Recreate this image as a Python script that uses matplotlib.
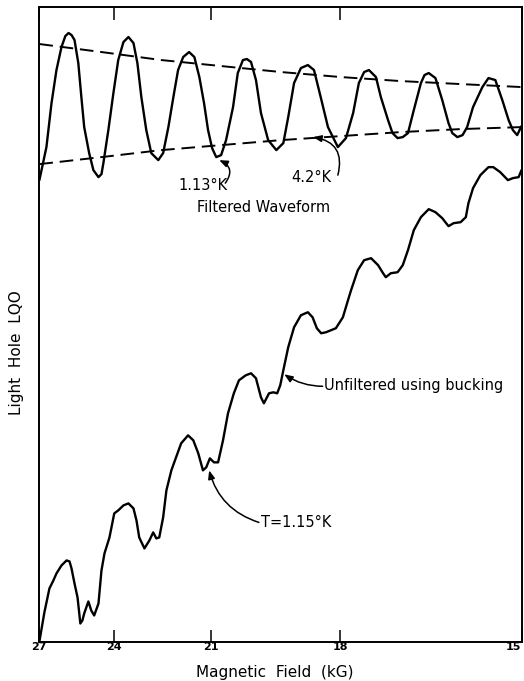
import numpy as np
import matplotlib
matplotlib.use("Agg")
import matplotlib.pyplot as plt

# ---------------- data (magnetic field in kG, signal in arbitrary units) -------------
field_ticks = [27, 24, 21, 18, 15]
tick_labels = ["27", "24", "21", "18", "15"]

# Filtered waveform (1.13 K)
filt_B = [26.96, 26.65, 26.43, 26.22, 26.01, 25.85, 25.72, 25.60, 25.48, 25.33,
          25.21, 25.10, 24.91, 24.75, 24.56, 24.45, 24.38, 24.20, 24.02, 23.85,
          23.67, 23.50, 23.33, 23.20, 23.07, 22.91, 22.75, 22.53, 22.38, 22.22,
          22.07, 21.93, 21.78, 21.61, 21.46, 21.32, 21.19, 21.08, 20.97, 20.86,
          20.73, 20.60, 20.42, 20.30, 20.17, 20.07, 19.97, 19.85, 19.73, 19.56,
          19.37, 19.21, 19.10, 18.97, 18.82, 18.67, 18.54, 18.40, 18.25, 18.05,
          17.89, 17.75, 17.64, 17.54, 17.45, 17.32, 17.23, 17.10, 17.02, 16.93,
          16.84, 16.75, 16.65, 16.53, 16.47, 16.40, 16.29, 16.18, 16.08, 16.02,
          15.94, 15.86, 15.79, 15.70, 15.56, 15.47, 15.37, 15.27, 15.18, 15.12,
          15.06, 15.00]
filt_S = [461, 494, 538, 571, 594, 605, 608, 606, 601, 578,
          544, 514, 488, 471, 464, 467, 478, 511, 548, 581,
          599, 604, 598, 578, 544, 511, 488, 481, 488, 514,
          544, 571, 584, 589, 584, 564, 538, 511, 493, 484,
          486, 501, 534, 568, 581, 582, 579, 561, 528, 501,
          491, 498, 524, 558, 573, 576, 571, 544, 514, 494,
          503, 528, 558, 569, 571, 564, 544, 521, 508, 503,
          504, 508, 531, 558, 566, 568, 563, 541, 518, 508,
          504, 506, 514, 534, 554, 563, 561, 541, 521, 511,
          506, 515]

# Envelope curves (dashed): 4.2 K
env_B = [26.96, 24.45, 22.44, 20.73, 19.26, 17.99, 16.88, 15.89, 15.00]
env_upper = [597, 589, 581, 575, 569, 564, 560, 557, 554]
env_lower = [477, 484, 491, 496, 501, 505, 509, 512, 514]

# Unfiltered trace using bucking, T = 1.15 K
unf_B = [26.96, 26.74, 26.52, 26.35, 26.22, 26.01, 25.80, 25.68, 25.60, 25.48,
         25.36, 25.25, 25.17, 25.10, 24.94, 24.83, 24.72, 24.56, 24.45, 24.34,
         24.16, 23.99, 23.85, 23.67, 23.50, 23.33, 23.23, 23.14, 22.97, 22.81,
         22.69, 22.59, 22.50, 22.38, 22.28, 22.13, 21.99, 21.84, 21.64, 21.49,
         21.35, 21.22, 21.13, 21.03, 20.92, 20.81, 20.68, 20.55, 20.40, 20.27,
         20.10, 19.97, 19.85, 19.73, 19.66, 19.54, 19.44, 19.35, 19.28, 19.21,
         19.10, 18.97, 18.82, 18.67, 18.57, 18.48, 18.39, 18.29, 18.19, 18.09,
         17.95, 17.85, 17.79, 17.66, 17.54, 17.41, 17.28, 17.19, 17.14, 17.05,
         16.93, 16.84, 16.75, 16.65, 16.53, 16.40, 16.29, 16.18, 16.08, 16.00,
         15.89, 15.81, 15.77, 15.70, 15.59, 15.47, 15.40, 15.30, 15.19, 15.12,
         15.04, 15.00]
unf_S = [0, 29, 53, 61, 68, 76, 81, 80, 73, 58,
         44, 18, 21, 28, 40, 31, 26, 38, 71, 88,
         104, 128, 131, 136, 138, 133, 121, 104, 93, 101,
         109, 103, 104, 124, 151, 171, 184, 198, 206, 201,
         188, 171, 174, 183, 179, 179, 201, 228, 248, 261,
         266, 268, 263, 244, 238, 248, 249, 248, 256, 271,
         294, 314, 326, 329, 324, 313, 308, 309, 311, 313,
         324, 341, 351, 371, 381, 383, 376, 368, 364, 368,
         369, 376, 391, 411, 424, 432, 429, 423, 415, 418,
         419, 424, 438, 453, 466, 474, 474, 469, 461, 463,
         464, 471]


# ---------------- figure ----------------
# x axis is linear in 1/B (Landau-level periodicity); use an increasing map -1/B
def fwd(b):
    b = np.asarray(b, dtype=float)
    with np.errstate(divide="ignore"):
        return -1.0 / b


def inv(u):
    u = np.asarray(u, dtype=float)
    with np.errstate(divide="ignore"):
        return -1.0 / u


fig = plt.figure(figsize=(5.24, 6.81), dpi=100)
ax = fig.add_axes([38.5 / 524, 1 - 641.5 / 681, 483 / 524, 634.5 / 681])
ax.set_xscale("function", functions=(fwd, inv))
ax.set_xlim(27, 15)
ax.set_ylim(0, 634)

line_kw = dict(color="black", solid_joinstyle="round", solid_capstyle="round")
ax.plot(filt_B, filt_S, lw=1.7, **line_kw)
ax.plot(unf_B, unf_S, lw=1.7, **line_kw)
ax.plot(env_B, env_upper, color="black", lw=1.4, linestyle=(0, (7, 3.5)))
ax.plot(env_B, env_lower, color="black", lw=1.4, linestyle=(0, (7, 3.5)))

ax.set_xticks(field_ticks)
ax.set_xticklabels(tick_labels, fontsize=8, fontweight="bold")
ax.get_xticklabels()[-1].set_horizontalalignment("right")
ax.xaxis.set_minor_locator(matplotlib.ticker.NullLocator())
ax.tick_params(axis="x", direction="in", top=True, bottom=True, length=9,
               width=1.1, pad=0.5)
ax.set_yticks([])
for sp in ax.spines.values():
    sp.set_linewidth(1.4)

ax.set_xlabel("Magnetic  Field  (kG)", fontsize=11, va="top")
ax.xaxis.set_label_coords(0.489, -0.037)
ax.set_ylabel("Light  Hole  LQO", fontsize=11, va="center")
ax.yaxis.set_label_coords(-0.0455, 0.456)

txt_kw = dict(fontsize=10.5, color="black")
ax.text(21.93, 456, "1.13°K", ha="left", va="center", **txt_kw)
ax.text(19.04, 464, "4.2°K", ha="left", va="center", **txt_kw)
ax.text(19.66, 434, "Filtered Waveform", ha="center", va="center", **txt_kw)
ax.text(18.33, 256, "Unfiltered using bucking", ha="left", va="center", **txt_kw)
ax.text(19.73, 119, "T=1.15°K", ha="left", va="center", **txt_kw)

arrow = "-|>,head_length=0.5,head_width=0.2"


def arr(start, end, rad):
    ax.annotate("", xy=end, xytext=start,
                arrowprops=dict(arrowstyle=arrow, color="black", lw=1.1,
                                shrinkA=0, shrinkB=0, mutation_scale=10,
                                connectionstyle=f"arc3,rad={rad}"))


arr((20.62, 458), (20.78, 481), 0.6)
arr((18.05, 466), (18.56, 504), 0.54)
arr((18.36, 255), (19.19, 267), -0.15)
arr((19.78, 119), (21.05, 171), -0.27)

fig.savefig("out.png", dpi=100, facecolor="white")
